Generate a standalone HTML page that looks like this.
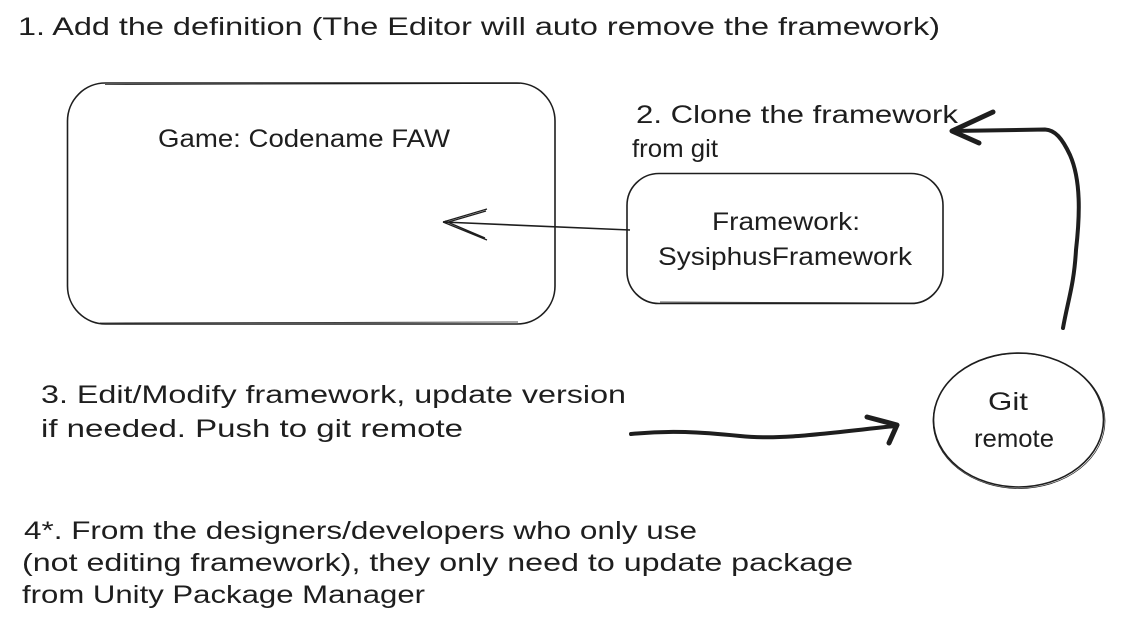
<!DOCTYPE html>
<html>
<head>
<meta charset="utf-8">
<style>
  html, body { margin: 0; padding: 0; background: #ffffff; }
  body { width: 1128px; height: 629px; overflow: hidden; }
  svg { display: block; }
  text { font-family: "Liberation Sans", "DejaVu Sans", sans-serif; fill: #1e1e1e; font-size: 25px; }
</style>
</head>
<body>
<svg width="1128" height="629" viewBox="0 0 1128 629" xmlns="http://www.w3.org/2000/svg">
  <rect width="1128" height="629" fill="#ffffff"/>

  <!-- Title text 1 -->
  <text x="18" y="35" textLength="922" lengthAdjust="spacingAndGlyphs">1. Add the definition (The Editor will auto remove the framework)</text>

  <!-- Game box -->
  <rect x="67.5" y="83" width="487.5" height="241" rx="38" ry="38" fill="none" stroke="#1e1e1e" stroke-width="1.6"/>
  <path d="M105 84.5 L520 83.5" fill="none" stroke="#1e1e1e" stroke-width="0.8"/>
  <path d="M100 323 L518 322" fill="none" stroke="#1e1e1e" stroke-width="0.8"/>
  <text x="158" y="147" textLength="292" lengthAdjust="spacingAndGlyphs">Game: Codename FAW</text>

  <!-- Framework box -->
  <rect x="627" y="173.5" width="316" height="130" rx="32" ry="32" fill="none" stroke="#1e1e1e" stroke-width="1.6"/>
  <path d="M660 302 L915 303" fill="none" stroke="#1e1e1e" stroke-width="0.8"/>
  <text x="712" y="230" textLength="148" lengthAdjust="spacingAndGlyphs">Framework:</text>
  <text x="658" y="265" textLength="254" lengthAdjust="spacingAndGlyphs">SysiphusFramework</text>

  <!-- Arrow from framework to game box -->
  <path d="M630 230 L443 222" fill="none" stroke="#1e1e1e" stroke-width="1.6"/>
  <path d="M443 222 L487 209 M445 223 L486 211" fill="none" stroke="#1e1e1e" stroke-width="1.3"/>
  <path d="M443 222 L487 240 M445 221 L485 238" fill="none" stroke="#1e1e1e" stroke-width="1.3"/>

  <!-- Text 2 -->
  <text x="636" y="123" textLength="322" lengthAdjust="spacingAndGlyphs">2. Clone the framework</text>
  <text x="632" y="157" textLength="86" lengthAdjust="spacingAndGlyphs">from git</text>

  <!-- Curved arrow from git remote to text 2 -->
  <path d="M1063 328 C1068 300 1074 285 1076 250 C1080 215 1081 180 1070 155 C1062 138 1055 130 1045 129.5 L952 131" fill="none" stroke="#1e1e1e" stroke-width="4" stroke-linecap="round" stroke-linejoin="round"/>
  <path d="M993 112 L952 131 L979 143" fill="none" stroke="#1e1e1e" stroke-width="5" stroke-linecap="round" stroke-linejoin="round"/>

  <!-- Git remote ellipse -->
  <ellipse cx="1018.5" cy="420" rx="85" ry="67" fill="none" stroke="#1e1e1e" stroke-width="1.6"/>
  <ellipse cx="1019" cy="421" rx="86" ry="67.5" fill="none" stroke="#1e1e1e" stroke-width="0.7"/>
  <text x="988" y="410" textLength="40" lengthAdjust="spacingAndGlyphs">Git</text>
  <text x="974" y="447" textLength="80" lengthAdjust="spacingAndGlyphs">remote</text>

  <!-- Text 3 -->
  <text x="41" y="403" textLength="585" lengthAdjust="spacingAndGlyphs">3. Edit/Modify framework, update version</text>
  <text x="41" y="437" textLength="422" lengthAdjust="spacingAndGlyphs">if needed. Push to git remote</text>

  <!-- Push arrow -->
  <path d="M631 434 C670 430 700 432 740 436 C780 440 820 434 895 426" fill="none" stroke="#1e1e1e" stroke-width="4" stroke-linecap="round" stroke-linejoin="round"/>
  <path d="M867 417 L897 425 L889 443" fill="none" stroke="#1e1e1e" stroke-width="5" stroke-linecap="round" stroke-linejoin="round"/>

  <!-- Text 4 -->
  <text x="24" y="539" textLength="673" lengthAdjust="spacingAndGlyphs">4*. From the designers/developers who only use</text>
  <text x="22" y="571" textLength="831" lengthAdjust="spacingAndGlyphs">(not editing framework), they only need to update package</text>
  <text x="22" y="603" textLength="403" lengthAdjust="spacingAndGlyphs">from Unity Package Manager</text>
</svg>
</body>
</html>
